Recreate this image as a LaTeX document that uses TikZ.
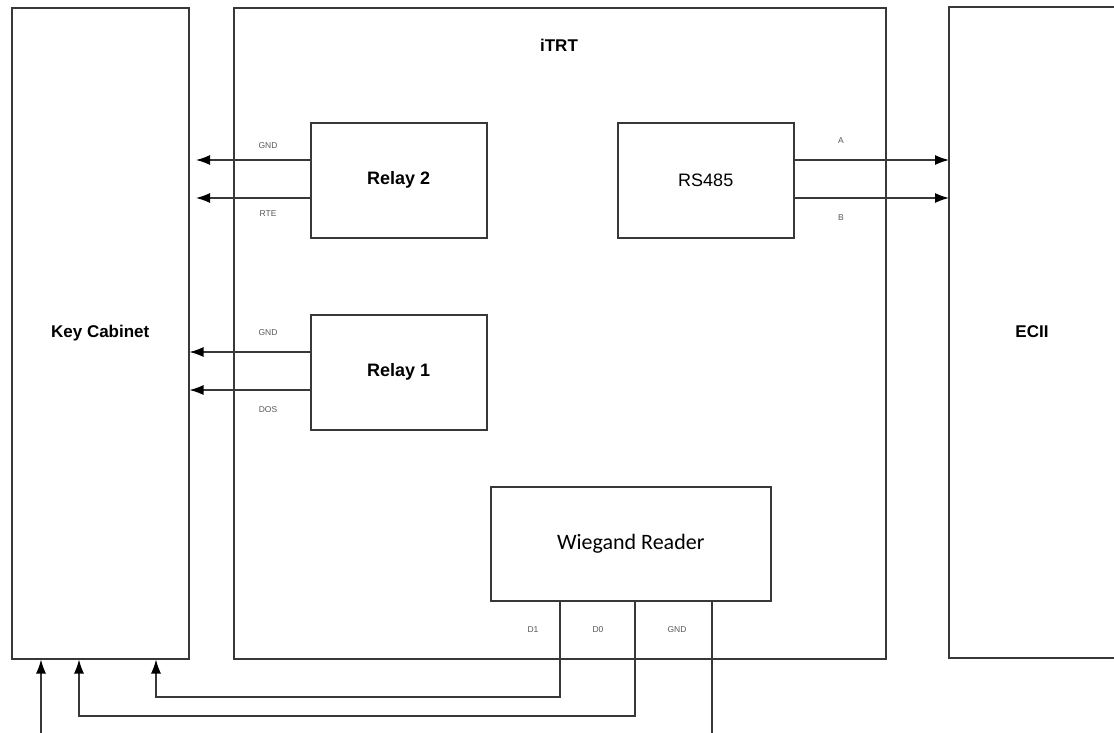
\documentclass[tikz,border=0pt]{standalone}
\usepackage{fontspec}
\setmainfont{Liberation Sans}
\newfontfamily\carlito{Carlito}
\usetikzlibrary{arrows.meta}
\definecolor{ln}{HTML}{383838}
\begin{document}
\begin{tikzpicture}[x=1pt,y=-1pt,
  box/.style={draw=ln,line width=1.5pt,minimum width=#1,inner sep=0pt,anchor=north west},
  wire/.style={draw=ln,line width=1.3pt},
  arr/.style={wire,-{Latex[length=14pt,width=10pt,fill=black,color=black]}},
  lbl/.style={font=\fontsize{8.5}{9}\selectfont,text=black!65},
  big/.style={font=\fontsize{17}{20}\selectfont\bfseries}]
\useasboundingbox[fill=white] (0,0) rectangle (1114,732);
% outer blocks
\node[box=177pt,minimum height=651pt] (kc) at (11,7) {};
\node[big] at (kc.center) {Key Cabinet};
\node[box=652pt,minimum height=651pt] (itrt) at (233,7) {};
\node[big,anchor=center] (itrtl) at (559,45) {iTRT};
\coordinate (ec) at (949,7);
\draw[wire,line width=1.5pt] (1116,7) -- (ec) -- (949,658) -- (1116,658);
\node[big,anchor=center] (ecl) at (1032,332) {ECII};
% inner blocks
\node[box=176pt,minimum height=115pt] (r2) at (310,122) {};
\node[big,font=\fontsize{18}{20}\selectfont\bfseries] at (r2.center) {Relay 2};
\node[box=176pt,minimum height=115pt] (r1) at (310,314) {};
\node[big,font=\fontsize{18}{20}\selectfont\bfseries] at (r1.center) {Relay 1};
\node[box=176pt,minimum height=115pt] (rs) at (617,122) {};
\node[font=\fontsize{18}{20}\selectfont] at (rs.center) {RS485};
\node[box=280pt,minimum height=114pt] (wr) at (490,486) {};
\node[font=\fontsize{22}{24}\selectfont\carlito] at (wr.center) {Wiegand Reader};
% relay 2
\coordinate (r2a) at (196,160);
\coordinate (r2b) at (196,198);
\draw[arr] (r2.west |- r2a) -- (r2a);
\draw[arr] (r2.west |- r2b) -- (r2b);
\node[lbl] at (268,146) {GND};
\node[lbl] at (268,214) {RTE};
% relay 1
\draw[arr] (r1.west |- 0,352) -- (kc.east |- 0,352);
\draw[arr] (r1.west |- 0,390) -- (kc.east |- 0,390);
\node[lbl] at (268,333) {GND};
\node[lbl] at (268,410) {DOS};
% rs485
\draw[arr] (rs.east |- 0,160) -- (ec |- 0,160);
\draw[arr] (rs.east |- 0,198) -- (ec |- 0,198);
\node[lbl] at (841,141) {A};
\node[lbl] at (841,218) {B};
% wiegand
\draw[arr] (wr.south west -| 560,0) -- (560,697) -- (156,697) -- (kc.south west -| 156,0);
\draw[arr] (wr.south west -| 635,0) -- (635,716) -- (79,716) -- (kc.south west -| 79,0);
\coordinate (gndend) at (712,734);
\draw[wire] (wr.south west -| 712,0) -- (gndend);
\coordinate (inend) at (41,734);
\draw[arr] (inend) -- (kc.south west -| 41,0);
\node[lbl] at (533,630) {D1};
\node[lbl] at (598,630) {D0};
\node[lbl] at (677,630) {GND};
\end{tikzpicture}
\end{document}
